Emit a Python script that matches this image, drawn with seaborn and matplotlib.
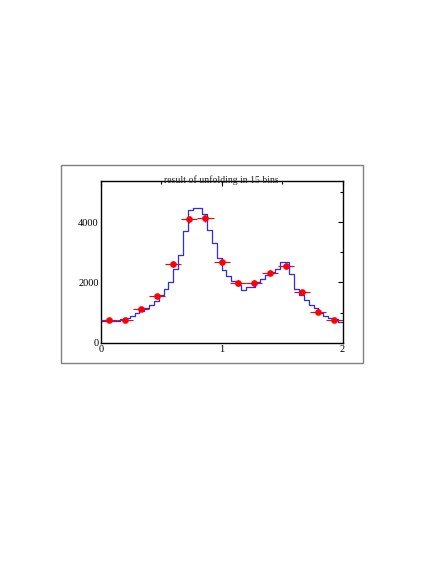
import numpy as np
import pandas as pd
import matplotlib
matplotlib.use("Agg")
import matplotlib.pyplot as plt
import seaborn as sns
from matplotlib.patches import Rectangle
from matplotlib.ticker import MultipleLocator

# generator-level histogram, 50 bins over [0, 2]
hist_values = [730, 725, 730, 735, 773, 827, 893, 972, 1058, 1137,
               1246, 1378, 1577, 1775, 2017, 2450, 2900, 3720, 4400, 4470,
               4470, 4280, 3730, 3320, 2800, 2420, 2200, 2050, 1900, 1740,
               1840, 1840, 2000, 2130, 2240, 2350, 2450, 2680, 2680, 2294,
               1798, 1577, 1412, 1246, 1136, 971, 883, 827, 773, 694]
hist_range = (0.0, 2.0)

# unfolding result, 15 bins over [0, 2]
unfold_values = [745, 760, 1130, 1545, 2615, 4095, 4130, 2670,
                 1980, 1980, 2325, 2535, 1675, 1035, 755]
unfold_errors = [60, 60, 70, 80, 100, 120, 120, 100,
                 90, 90, 95, 100, 85, 70, 60]

sns.set_style("white")
plt.rcParams["font.family"] = ["Liberation Serif", "DejaVu Serif"]

fig = plt.figure(figsize=(4.36, 5.64), dpi=100)
fig.patches.append(Rectangle((61 / 436, 1 - 362.5 / 564), 302 / 436, 197.5 / 564,
                             transform=fig.transFigure, fill=False,
                             edgecolor="#808080", linewidth=1.0))
ax = fig.add_axes([0.231, 0.3924, 0.5546, 0.2858])

nb = len(hist_values)
edges = np.linspace(hist_range[0], hist_range[1], nb + 1)
hist_df = pd.DataFrame({"x": 0.5 * (edges[:-1] + edges[1:]), "w": hist_values})
sns.histplot(data=hist_df, x="x", weights="w", bins=nb, binrange=hist_range,
             element="step", fill=False, color="#2a2aff", linewidth=0.9, ax=ax)

uedges = np.linspace(hist_range[0], hist_range[1], len(unfold_values) + 1)
ucenters = 0.5 * (uedges[:-1] + uedges[1:])
half_width = 0.5 * np.diff(uedges)
ax.errorbar(ucenters, unfold_values, xerr=half_width, yerr=unfold_errors,
            fmt="none", ecolor="red", elinewidth=0.8, capsize=0, zorder=3)
sns.scatterplot(x=ucenters, y=unfold_values, color="red", s=20,
                edgecolor="red", linewidth=0.3, zorder=4, ax=ax)

ax.set_xlim(0, 2)
ax.set_ylim(0, 5350)
ax.set_xlabel("")
ax.set_ylabel("")
ax.xaxis.set_major_locator(MultipleLocator(1))
ax.xaxis.set_minor_locator(MultipleLocator(0.5))
ax.yaxis.set_major_locator(MultipleLocator(2000))
ax.yaxis.set_minor_locator(MultipleLocator(1000))
ax.tick_params(which="both", direction="in", top=True, right=True,
               labelsize=7.5, colors="black", pad=1.5, width=0.8)
ax.tick_params(which="major", length=3.5)
ax.tick_params(which="minor", length=2)
for s in ax.spines.values():
    s.set_color("black")
    s.set_linewidth(1.0)

ax.set_title("result of unfolding in 15 bins", fontsize=7, pad=-1)

fig.savefig("out.png", dpi=100)
